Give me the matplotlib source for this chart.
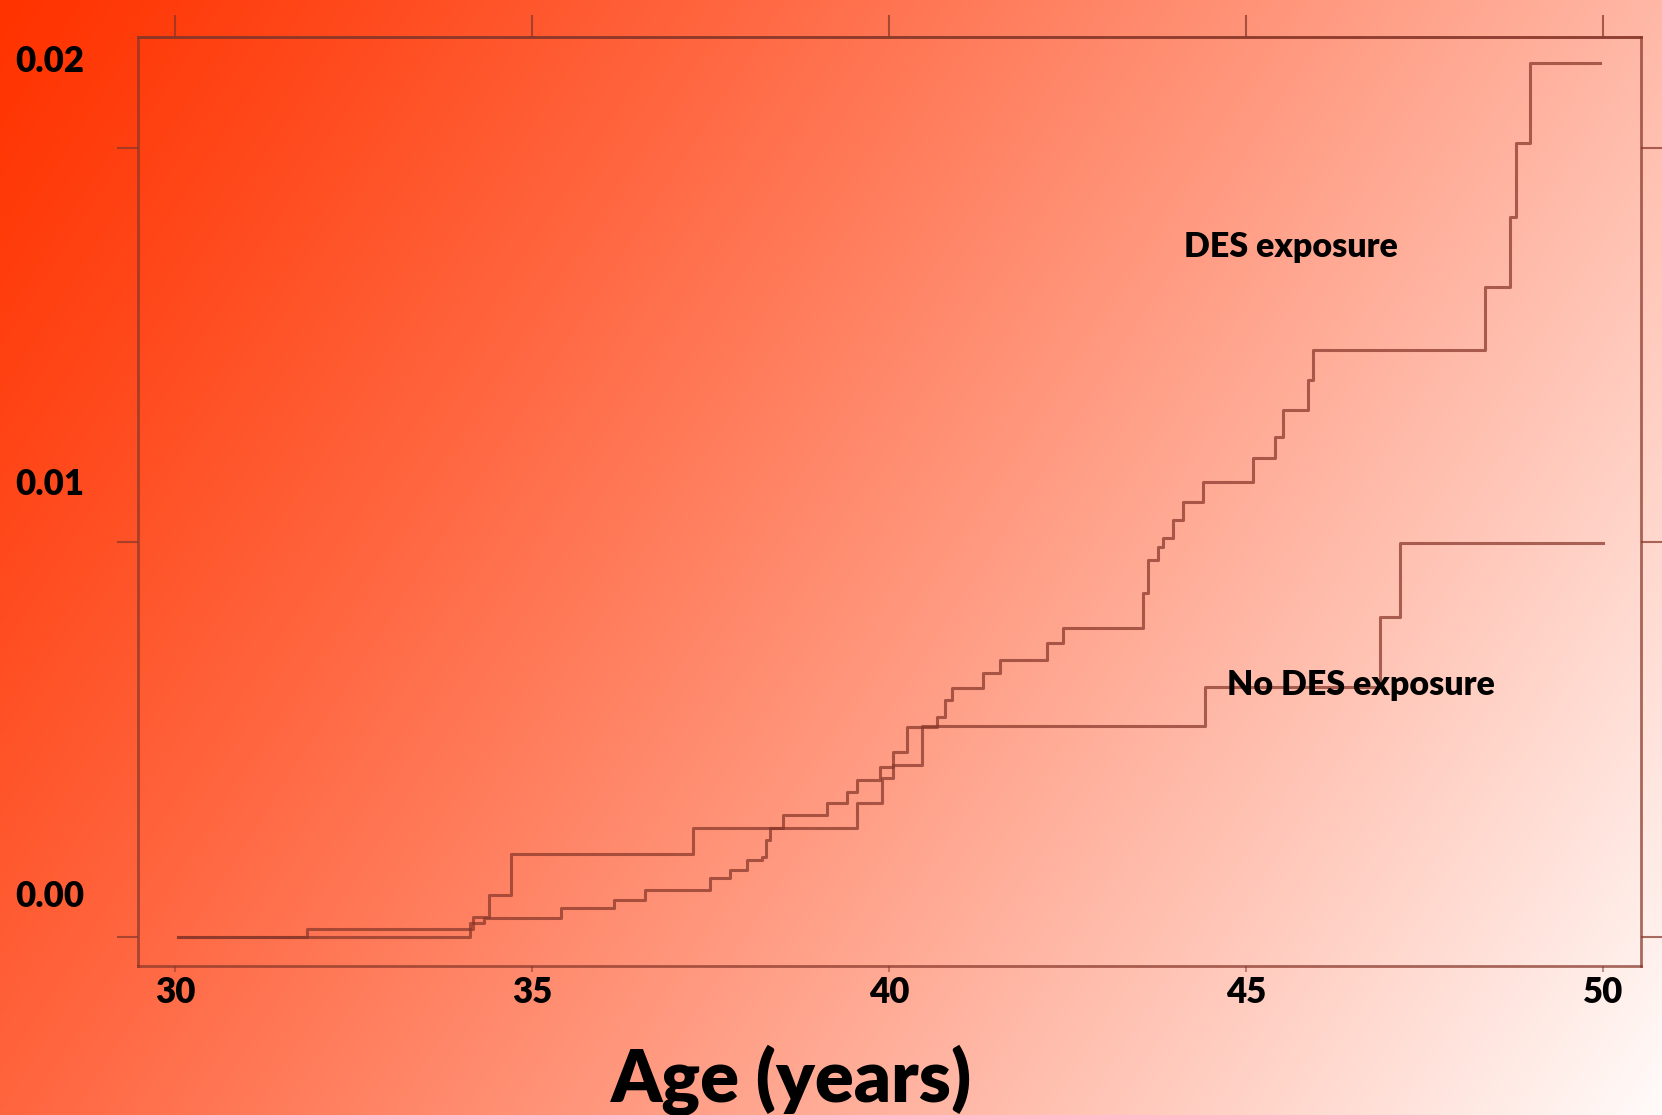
import numpy as np
import matplotlib
matplotlib.use('Agg')
import matplotlib.pyplot as plt

plt.rcParams['font.family'] = ['Lato', 'DejaVu Sans']
plt.rcParams['font.weight'] = 'heavy'

# cumulative risk (step positions, value after the step)
des_age = [30.04, 34.13, 34.33, 35.41, 36.15, 36.58, 37.49, 37.77, 38.01, 38.22,
           38.28, 38.33, 38.52, 39.13, 39.41, 39.55, 39.87, 40.06, 40.25, 40.67,
           40.78, 40.88, 41.32, 41.55, 42.21, 42.44, 43.56, 43.63, 43.77, 43.84,
           43.98, 44.12, 44.40, 45.10, 45.41, 45.52, 45.87, 45.94, 48.35, 48.70,
           48.78, 48.98]
des_risk = [0, 0.00036, 0.00048, 0.00074, 0.00094, 0.00119, 0.00150, 0.00170, 0.00195, 0.00203,
            0.00246, 0.00276, 0.00309, 0.00340, 0.00368, 0.00398, 0.00431, 0.00469, 0.00532, 0.00558,
            0.00601, 0.00631, 0.00669, 0.00702, 0.00745, 0.00783, 0.00872, 0.00956, 0.00989, 0.01011,
            0.01057, 0.01103, 0.01153, 0.01214, 0.01267, 0.01336, 0.01412, 0.01488, 0.01648, 0.01825,
            0.02013, 0.02216]
des_end = 49.96

nodes_age = [30.04, 31.85, 34.17, 34.40, 34.71, 37.25, 39.55, 39.90, 40.06, 40.46,
             44.43, 46.88, 47.16]
nodes_risk = [0, 0.00020, 0.00051, 0.00107, 0.00210, 0.00276, 0.00340, 0.00403, 0.00436, 0.00535,
              0.00634, 0.00811, 0.00999]
nodes_end = 50.0

x_ticks = [30, 35, 40, 45, 50]
x_tick_labels = ['30', '35', '40', '45', '50']
y_ticks = [0.0, 0.01, 0.02]
y_tick_labels = ['0.00', '0.01', '0.02']

LINE_COL = (0.53, 0.21, 0.16)
LINE_ALPHA = 0.72

fig = plt.figure(figsize=(16.62, 11.15), dpi=100)

# slide background: red-orange fading to white towards bottom right
bg = fig.add_axes([0, 0, 1, 1], zorder=0)
bg.axis('off')
W, H = 400, 270
xx, yy = np.meshgrid(np.linspace(0, 1, W), np.linspace(0, 1, H))
s = (0.7 * xx + 0.3 * yy) ** 1.15
red = np.array([1.0, 0.20, 0.0])
white = np.array([1.0, 0.985, 0.98])
img = red[None, None, :] * (1 - s[..., None]) + white[None, None, :] * s[..., None]
bg.imshow(img, aspect='auto', extent=[0, 1, 0, 1], interpolation='bilinear')
bg.set_xlim(0, 1)
bg.set_ylim(0, 1)

ax = fig.add_axes([0.0830, 0.1336, 0.9044, 0.8332], zorder=1)
ax.set_facecolor('none')

ax.step(np.append(des_age, des_end), np.append(des_risk, des_risk[-1]), where='post',
        color=LINE_COL, alpha=LINE_ALPHA, lw=2.2)
ax.step(np.append(nodes_age, nodes_end), np.append(nodes_risk, nodes_risk[-1]), where='post',
        color=LINE_COL, alpha=LINE_ALPHA, lw=2.2)

ax.set_xlim(29.48, 50.53)
ax.set_ylim(-0.000735, 0.02281)

for sp in ax.spines.values():
    sp.set_color(LINE_COL)
    sp.set_alpha(LINE_ALPHA)
    sp.set_linewidth(2.0)

ax.set_xticks(x_ticks, labels=x_tick_labels)
ax.tick_params(axis='x', bottom=True, top=False, direction='out', length=4, width=1.5,
               color=(0.53, 0.21, 0.16, 0.5), pad=3, labelsize=25, labelcolor='black')

sec = ax.secondary_xaxis('top')
sec.set_xticks(x_ticks)
sec.tick_params(axis='x', direction='out', length=15.8, width=1.5,
                color=(0.53, 0.21, 0.16, LINE_ALPHA), labeltop=False)
sec.spines['top'].set_color(LINE_COL)
sec.spines['top'].set_alpha(LINE_ALPHA)
sec.spines['top'].set_linewidth(2.0)

ax.set_yticks(y_ticks)
ax.tick_params(axis='y', left=True, right=True, labelleft=False, direction='out',
               length=15, width=1.5, color=(0.53, 0.21, 0.16, LINE_ALPHA))

# overlaid value labels, placed as on the slide (not centred on the ticks)
for lab, yf in zip(y_tick_labels, [0.1866, 0.5561, 0.9354]):
    fig.text(0.009, yf, lab, ha='left', va='baseline', fontsize=25,
             fontweight='heavy', color='black')

ax.set_xlabel('Age (years)', fontsize=52, fontweight='heavy', color='black')
ax.xaxis.label.set_va('baseline')
ax.xaxis.set_label_coords(0.435, -0.1464)

ax.text(44.13, 0.01724, 'DES exposure', fontsize=24.5, fontweight='heavy',
        color='black', ha='left', va='baseline')
ax.text(44.73, 0.00613, 'No DES exposure', fontsize=24.5, fontweight='heavy',
        color='black', ha='left', va='baseline')

fig.savefig('out.png', dpi=100)
